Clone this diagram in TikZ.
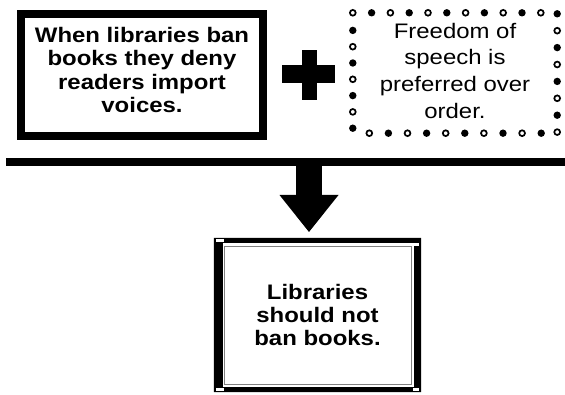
\documentclass[tikz,border=0pt]{standalone}
\usepackage{fontspec}
\newfontfamily\diagfont[FakeStretch=1.14]{Liberation Sans}
\usetikzlibrary{arrows.meta,positioning}
\tikzset{
  reasonbox/.style={draw, line width=8pt, minimum width=242pt, minimum height=122pt,
    align=center, text depth=10pt, font=\diagfont\bfseries\fontsize{21}{23.3}\selectfont},
  premisebox/.style={minimum width=204pt, minimum height=120pt, inner sep=0pt,
    align=center, text depth=5pt, font=\diagfont\fontsize{21}{26.7}\selectfont},
  claimbox/.style={minimum width=207pt, minimum height=154pt, inner sep=0pt,
    align=center, font=\diagfont\bfseries\fontsize{21}{23}\selectfont},
  dotfull/.style={fill=black},
  dotopen/.style={draw=black, line width=1.7pt, fill=white},
  blockarrow/.style={line width=26pt, -{Triangle[width=59pt,length=37pt,line width=0pt]}}
}
\begin{document}
\begin{tikzpicture}[x=1pt, y=-1pt]
    \useasboundingbox (0,0) rectangle (565,395);
    \node[reasonbox] (reason) at (142,75)
      {When libraries ban\\books they deny\\readers import\\voices.};
    \node[premisebox] (premise) at (455,73)
      {Freedom of\\speech is\\preferred over\\order.};
    \node[claimbox] (claim) at (317.5,315)
      {Libraries\\should not\\ban books.};

    % plus sign
    \coordinate (plus) at (309,74);
    \fill ([shift={(-27,-9)}]plus) rectangle ([shift={(26,9)}]plus);
    \fill ([shift={(-7,-24)}]plus) rectangle ([shift={(8,26)}]plus);

    % dotted frame of the premise
    \foreach \i in {0,...,10}
      {\ifodd\i \fill ([xshift=\i*18.8pt]premise.north west) circle[radius=3.7pt];
       \else \path[dotopen] ([xshift=\i*18.8pt]premise.north west) circle[radius=2.9pt]; \fi}
    \foreach \j in {0,...,7}
      {\ifodd\j \path[dotopen] ([yshift={-1pt-\j*16.9pt}]premise.north east) circle[radius=2.9pt];
       \else \fill ([yshift={-1pt-\j*16.9pt}]premise.north east) circle[radius=3.7pt]; \fi}
    \foreach \k in {0,...,9}
      {\ifodd\k \path[dotopen] ([xshift={-16pt-\k*19.1pt}]premise.south east) circle[radius=2.9pt];
       \else \fill ([xshift={-16pt-\k*19.1pt}]premise.south east) circle[radius=3.7pt]; \fi}
    \foreach \l in {0,...,6}
      {\ifodd\l \path[dotopen] ([yshift={5pt+\l*16.3pt}]premise.south west) circle[radius=2.9pt];
       \else \fill ([yshift={5pt+\l*16.3pt}]premise.south west) circle[radius=3.7pt]; \fi}

    % frame of the claim
    \fill[even odd rule] (claim.north west) rectangle (claim.south east)
      ([xshift=9pt,yshift=-5pt]claim.north west) rectangle ([xshift=-7pt,yshift=5pt]claim.south east);
    \draw[gray, line width=0.8pt] ([xshift=11pt,yshift=-9pt]claim.north west)
      rectangle ([xshift=-10pt,yshift=8pt]claim.south east);
    \fill[white] ([xshift=2pt,yshift=-1pt]claim.north west) rectangle ([xshift=10pt,yshift=-4pt]claim.north west);
    \fill[white] ([xshift=2pt,yshift=1pt]claim.south west) rectangle ([xshift=10pt,yshift=4pt]claim.south west);
    \fill[white] ([xshift=-8pt,yshift=-5pt]claim.north east) rectangle ([xshift=-2pt,yshift=-8pt]claim.north east);
    \fill[white] ([xshift=-8pt,yshift=1pt]claim.south east) rectangle ([xshift=-2pt,yshift=4pt]claim.south east);

    % bar and arrow
    \coordinate (barL) at (6,162);
    \coordinate (barR) at (565,162);
    \coordinate (barmid) at (309,162);
    \coordinate (tip) at (309,232);
    \draw[line width=8pt] (barL) -- (barR);
    \draw[blockarrow] (barmid) -- (tip);
\end{tikzpicture}
\end{document}
